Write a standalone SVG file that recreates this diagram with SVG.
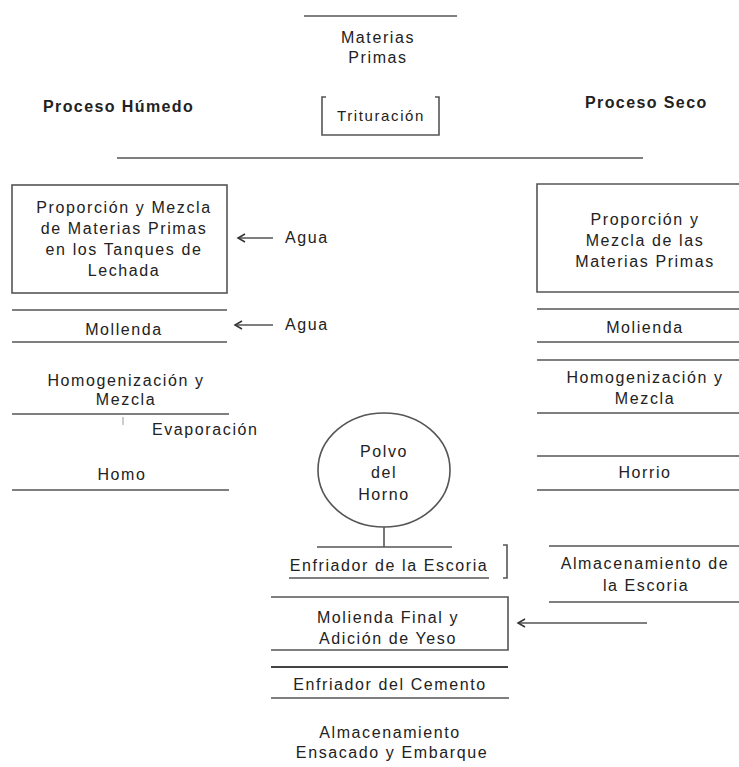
<svg xmlns="http://www.w3.org/2000/svg" width="739" height="767" viewBox="0 0 739 767">
<style>
  text { font-family: "Liberation Sans", Arial, sans-serif; font-size: 16px; fill: #222; letter-spacing: 1.6px; }
  .c { text-anchor: middle; }
  .b { font-weight: bold; letter-spacing: 1.4px; }
  .ln { stroke: #555; stroke-width: 1.6; fill: none; }
  .thick { stroke: #444; stroke-width: 2.2; fill: none; }
</style>
<defs>
  <marker id="arr" markerWidth="10" markerHeight="10" refX="8" refY="5" orient="auto" markerUnits="userSpaceOnUse">
    <path d="M1,1 L8,5 L1,9" fill="none" stroke="#333" stroke-width="1.5"/>
  </marker>
</defs>
<rect width="739" height="767" fill="#fff"/>

<g id="materias-primas">
  <line class="ln" x1="304" y1="16" x2="457" y2="16"/>
  <text class="c" x="378" y="43">Materias</text>
  <text class="c" x="378" y="63">Primas</text>
</g>

<g id="trituracion">
  <path class="ln" d="M326,97 H322 V135 H439 V97 H435"/>
  <text class="c" x="381" y="121" style="font-size:15px">Trituración</text>
</g>

<g id="titulos">
  <text class="b" x="43" y="112">Proceso Húmedo</text>
  <text class="b" x="585" y="108">Proceso Seco</text>
  <line class="ln" x1="117" y1="158" x2="643" y2="158"/>
</g>

<g id="h-proporcion">
  <rect class="ln" x="12" y="185" width="215" height="108"/>
  <text class="c" x="124" y="213">Proporción y Mezcla</text>
  <text class="c" x="124" y="234">de Materias Primas</text>
  <text class="c" x="124" y="255">en los Tanques de</text>
  <text class="c" x="124" y="276">Lechada</text>
</g>

<g id="agua1"><text x="285" y="243">Agua</text></g>
<g id="agua2"><text x="285" y="330">Agua</text></g>

<g id="h-molienda">
  <line class="ln" x1="12" y1="310" x2="227" y2="310"/>
  <text class="c" x="124" y="335">Mollenda</text>
  <line class="ln" x1="12" y1="342" x2="227" y2="342"/>
</g>

<g id="h-homogenizacion">
  <text class="c" x="126" y="386">Homogenización y</text>
  <text class="c" x="126" y="405">Mezcla</text>
  <line class="ln" x1="12" y1="414" x2="229" y2="414"/>
</g>

<g id="evaporacion">
  <line stroke="#999" stroke-width="1" x1="123" y1="417" x2="123" y2="425"/>
  <text x="152" y="435">Evaporación</text>
</g>

<g id="h-horno">
  <text class="c" x="122" y="480">Homo</text>
  <line class="ln" x1="12" y1="490" x2="229" y2="490"/>
</g>

<g id="s-proporcion">
  <path class="ln" d="M739,184 H537 V292 H739"/>
  <text class="c" x="645" y="225">Proporción y</text>
  <text class="c" x="645" y="246">Mezcla de las</text>
  <text class="c" x="645" y="267">Materias Primas</text>
</g>

<g id="s-molienda">
  <line class="ln" x1="537" y1="309" x2="739" y2="309"/>
  <text class="c" x="645" y="333">Molienda</text>
  <line class="ln" x1="537" y1="342" x2="739" y2="342"/>
</g>

<g id="s-homogenizacion">
  <line class="ln" x1="537" y1="360" x2="739" y2="360"/>
  <text class="c" x="645" y="383">Homogenización y</text>
  <text class="c" x="645" y="404">Mezcla</text>
  <line class="ln" x1="537" y1="413" x2="739" y2="413"/>
</g>

<g id="s-horno">
  <line class="ln" x1="537" y1="456" x2="739" y2="456"/>
  <text class="c" x="645" y="478">Horrio</text>
  <line class="ln" x1="537" y1="490" x2="739" y2="490"/>
</g>

<g id="polvo-horno">
  <ellipse class="ln" cx="384" cy="470" rx="66" ry="57"/>
  <text class="c" x="384" y="457">Polvo</text>
  <text class="c" x="384" y="478">del</text>
  <text class="c" x="384" y="500">Horno</text>
</g>

<g id="enfriador-escoria">
  <line class="ln" x1="317" y1="547" x2="452" y2="547"/>
  <text class="c" x="389" y="571">Enfriador de la Escoria</text>
  <line class="ln" x1="289" y1="578" x2="489" y2="578"/>
  <path class="ln" d="M503,545 H507 V578 H503"/>
</g>

<g id="almacenamiento-escoria">
  <line class="ln" x1="549" y1="546" x2="739" y2="546"/>
  <text class="c" x="645" y="569">Almacenamiento de</text>
  <text class="c" x="646" y="591">la Escoria</text>
  <line class="ln" x1="549" y1="602" x2="739" y2="602"/>
</g>

<g id="molienda-final">
  <path class="ln" d="M271,597 H508 V650 H271"/>
  <text class="c" x="388" y="623">Molienda Final y</text>
  <text class="c" x="388" y="644">Adición de Yeso</text>
</g>

<g id="enfriador-cemento">
  <line class="thick" x1="271" y1="667" x2="508" y2="667"/>
  <text class="c" x="390" y="690">Enfriador del Cemento</text>
  <line class="ln" x1="271" y1="698" x2="509" y2="698"/>
</g>

<g id="almacenamiento-final">
  <text class="c" x="390" y="738">Almacenamiento</text>
  <text class="c" x="392" y="758">Ensacado y Embarque</text>
</g>

<g id="connectors">
  <line class="ln" x1="273" y1="238" x2="238" y2="238" marker-end="url(#arr)"/>
  <line class="ln" x1="273" y1="325" x2="235" y2="325" marker-end="url(#arr)"/>
  <line class="ln" x1="384" y1="527" x2="384" y2="547"/>
  <line class="ln" x1="647" y1="623" x2="518" y2="623" marker-end="url(#arr)"/>
</g>
</svg>
